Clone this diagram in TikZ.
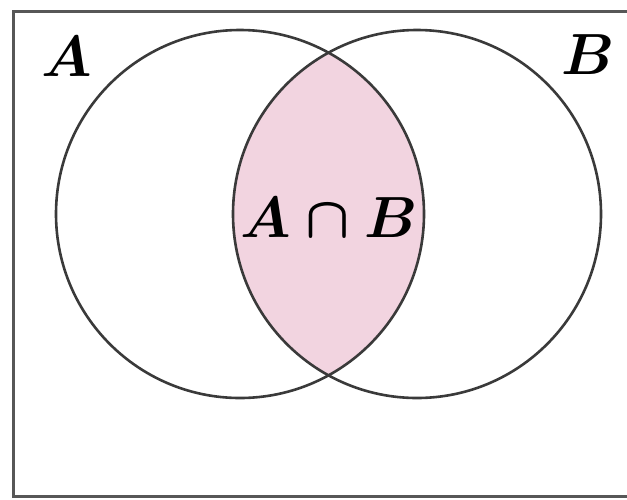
\documentclass[tikz,border=0pt]{standalone}
\usepackage{amsmath, amssymb}
\usepackage{xcolor}
\usetikzlibrary{positioning}
\definecolor{vnpink}{HTML}{F2D4E0}
\definecolor{vnline}{HTML}{3A3A3A}

\begin{document}
\begin{tikzpicture}[x=1pt, y=-1pt, line width=2.6pt,
        set/.style={draw=vnline, circle, minimum size=368pt, inner sep=0pt},
        lbl/.style={inner sep=0pt, scale=2.8, font=\huge\boldmath}]
        \useasboundingbox (0,0) rectangle (627,499);
        \draw[vnline!85, line width=3pt] (627,11) -- (13,11) -- (13,496) -- (627,496);
        \coordinate (ca) at (240,214);
        \coordinate (cb) at (417,214);
        \begin{scope}
          \clip (ca) circle[radius=184pt];
          \fill[vnpink] (cb) circle[radius=184pt];
        \end{scope}
        \node[set] (a) at (ca) {};
        \node[set] (b) at (cb) {};
        \node[lbl] (la) at (67,57) {$A$};
        \node[lbl] (lb) at (588,55) {$B$};
        \node[lbl] (ab) at (329,218) {$A\cap B$};
      \end{tikzpicture}
\end{document}
